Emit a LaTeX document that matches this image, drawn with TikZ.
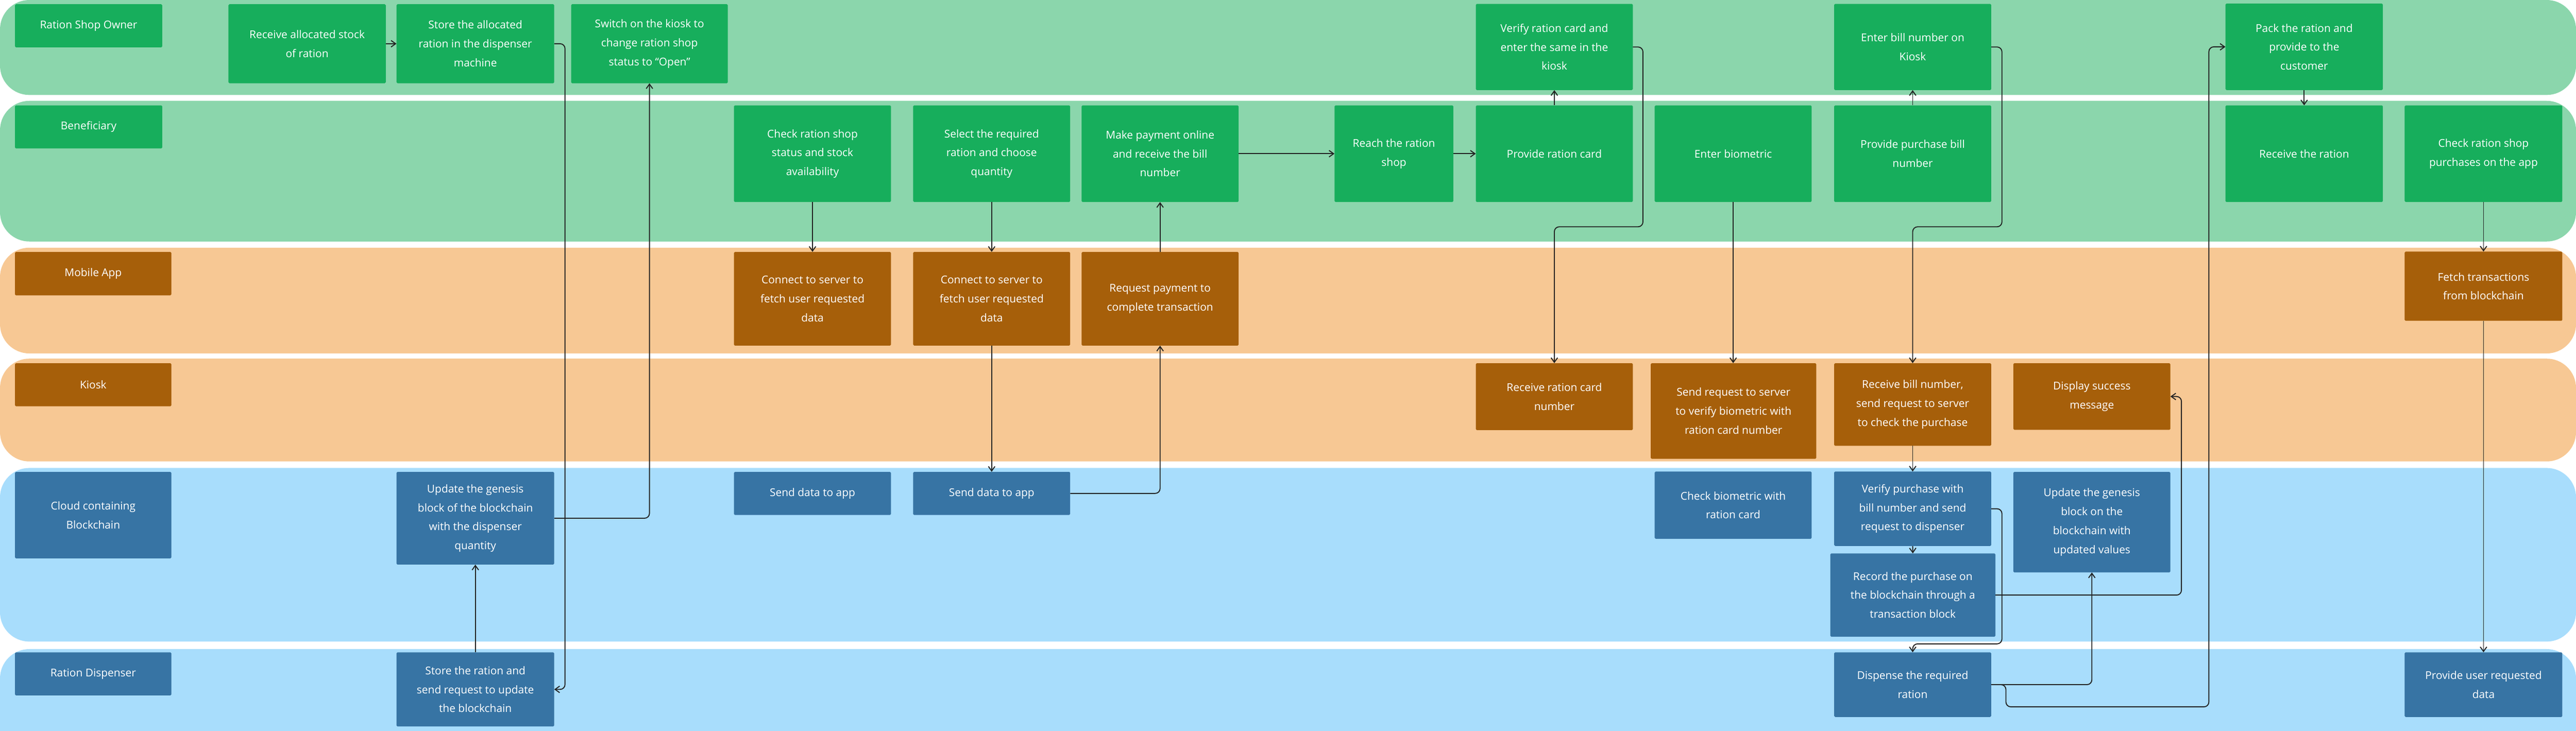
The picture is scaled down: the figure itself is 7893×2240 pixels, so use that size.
\documentclass[tikz,border=0pt]{standalone}
\usepackage{fontspec}
\setmainfont{Open Sans}
\usetikzlibrary{arrows.meta}
\definecolor{laneG}{HTML}{8BD6AC}
\definecolor{boxG}{HTML}{17AE5C}
\definecolor{laneO}{HTML}{F7C894}
\definecolor{boxO}{HTML}{A65F0A}
\definecolor{laneB}{HTML}{A8DDFC}
\definecolor{boxB}{HTML}{3774A4}
\definecolor{ln}{HTML}{222222}
\begin{document}
\begin{tikzpicture}[x=1pt,y=-1pt,
  box/.style={draw=none,inner sep=0pt,align=center,text=white,font=\fontsize{33}{58}\selectfont,rounded corners=3pt},
  g/.style={box,fill=boxG},o/.style={box,fill=boxO},b/.style={box,fill=boxB},
  pill/.style={box,rounded corners=60pt,minimum width=451pt,minimum height=132pt},
  lane/.style={rounded corners=90pt},
  conn/.style={draw=ln,line width=3pt,rounded corners=15pt,-{Straight Barb[length=14pt,width=20pt,line width=3pt]}}]
\useasboundingbox (0,0) rectangle (7893,2240);
% lanes
\fill[laneG,lane] (0,0) rectangle (7893,291);
\fill[laneG,lane] (0,309) rectangle (7893,740);
\fill[laneO,lane] (0,759) rectangle (7893,1083);
\fill[laneO,lane] (0,1099) rectangle (7893,1414);
\fill[laneB,lane] (0,1434) rectangle (7893,1966);
\fill[laneB,lane] (0,1989) rectangle (7893,2330);
% pills
\node[pill,g] (p1) at (271.5,79) {Ration Shop Owner};
\node[pill,g] (p2) at (271.5,389) {Beneficiary};
\node[pill,o,minimum width=479pt,minimum height=133pt] (p3) at (285.5,838.5) {Mobile App};
\node[pill,o,minimum width=479pt] (p4) at (285.5,1179) {Kiosk};
\node[pill,b,minimum width=479pt,minimum height=265pt] (p5) at (285.5,1578.5) {Cloud containing\\Blockchain};
\node[pill,b,minimum width=479pt] (p6) at (285.5,2065) {Ration Dispenser};
% owner lane
\node[g,minimum width=482pt,minimum height=242pt] (rcv) at (941,134) {Receive allocated stock\\of ration};
\node[g,minimum width=483pt,minimum height=242pt] (sto) at (1456.5,134) {Store the allocated\\ration in the dispenser\\machine};
\node[g,minimum width=480pt,minimum height=242pt] (swi) at (1990,134) {Switch on the kiosk to\\change ration shop\\status to “Open”};
\node[g,minimum width=481pt,minimum height=264pt] (ver) at (4762.5,144) {Verify ration card and\\enter the same in the\\kiosk};
\node[g,minimum width=481pt,minimum height=264pt] (ent) at (5860.5,144) {Enter bill number on\\Kiosk};
\node[g,minimum width=482pt,minimum height=265pt] (pack) at (7060,143.5) {Pack the ration and\\provide to the\\customer};
% beneficiary lane
\node[g,minimum width=481pt,minimum height=296pt] (chk) at (2489.5,471) {Check ration shop\\status and stock\\availability};
\node[g,minimum width=481pt,minimum height=296pt] (sel) at (3038.5,471) {Select the required\\ration and choose\\quantity};
\node[g,minimum width=481pt,minimum height=296pt] (pay) at (3554.5,471) {Make payment online\\and receive the bill\\number};
\node[g,minimum width=364pt,minimum height=296pt] (reach) at (4271,471) {Reach the ration\\shop};
\node[g,minimum width=481pt,minimum height=296pt] (prc) at (4762.5,471) {Provide ration card};
\node[g,minimum width=481pt,minimum height=296pt] (bio) at (5310.5,471) {Enter biometric};
\node[g,minimum width=481pt,minimum height=296pt] (ppb) at (5860.5,471) {Provide purchase bill\\number};
\node[g,minimum width=482pt,minimum height=296pt] (rcvr) at (7060,471) {Receive the ration};
\node[g,minimum width=483pt,minimum height=296pt] (cpa) at (7609.5,471) {Check ration shop\\purchases on the app};
% mobile app lane
\node[o,minimum width=481pt,minimum height=287pt] (con1) at (2489.5,915.5) {Connect to server to\\fetch user requested\\data};
\node[o,minimum width=481pt,minimum height=287pt] (con2) at (3038.5,915.5) {Connect to server to\\fetch user requested\\data};
\node[o,minimum width=481pt,minimum height=287pt] (req) at (3554.5,915.5) {Request payment to\\complete transaction};
\node[o,minimum width=483pt,minimum height=212pt] (fetch) at (7609.5,877) {Fetch transactions\\from blockchain};
% kiosk lane
\node[o,minimum width=481pt,minimum height=205pt] (rcn) at (4762.5,1215.5) {Receive ration card\\number};
\node[o,minimum width=507pt,minimum height=293pt] (sbio) at (5311.5,1259.5) {Send request to server\\to verify biometric with\\ration card number};
\node[o,minimum width=481pt,minimum height=253pt] (rbn) at (5860.5,1239.5) {Receive bill number,\\send request to server\\to check the purchase};
\node[o,minimum width=481pt,minimum height=204pt] (disp) at (6409.5,1215) {Display success\\message};
% cloud lane
\node[b,minimum width=483pt,minimum height=284pt] (gen1) at (1456.5,1588) {Update the genesis\\block of the blockchain\\with the dispenser\\quantity};
\node[b,minimum width=481pt,minimum height=132pt] (sd1) at (2489.5,1512) {Send data to app};
\node[b,minimum width=481pt,minimum height=132pt] (sd2) at (3038.5,1512) {Send data to app};
\node[b,minimum width=481pt,minimum height=206pt] (cbio) at (5310.5,1548) {Check biometric with\\ration card};
\node[b,minimum width=481pt,minimum height=228pt] (vp) at (5860.5,1559) {Verify purchase with\\bill number and send\\request to dispenser};
\node[b,minimum width=506pt,minimum height=255pt] (rec) at (5861,1823.5) {Record the purchase on\\the blockchain through a\\transaction block};
\node[b,minimum width=481pt,minimum height=308pt] (gen2) at (6409.5,1600) {Update the genesis\\block on the\\blockchain with\\updated values};
% dispenser lane
\node[b,minimum width=483pt,minimum height=227pt] (str) at (1456.5,2112.5) {Store the ration and\\send request to update\\the blockchain};
\node[b,minimum width=481pt,minimum height=198pt] (dis) at (5860.5,2098) {Dispense the required\\ration};
\node[b,minimum width=483pt,minimum height=198pt] (pud) at (7609.5,2098) {Provide user requested\\data};
% helper coordinates
\coordinate (v1) at (5034,695);
\coordinate (e1) at (6134,695);
\coordinate (c1) at (6134,1973);
\coordinate (c2) at (6684,1215);
\coordinate (d2) at (6768,2166);
% connectors
\draw[conn] (rcv.east) -- (sto.west);
\draw[conn] (sto.east) -- ++(33,0) |- (str.east);
\draw[conn] (str.north) -- (gen1.south);
\draw[conn] (gen1.east) -| (swi.south);
\draw[conn] (chk.south) -- (con1.north);
\draw[conn] (sel.south) -- (con2.north);
\draw[conn] (con2.south) -- (sd2.north);
\draw[conn] (sd2.east) -| (req.south);
\draw[conn] (req.north) -- (pay.south);
\draw[conn] (pay.east) -- (reach.west);
\draw[conn] (reach.east) -- (prc.west);
\draw[conn] (prc.north) -- (ver.south);
\draw[conn] (ver.east) -| (v1) -| (rcn.north);
\draw[conn,line width=2pt] (bio.south) -- (bio.south |- sbio.north);
\draw[conn] (ppb.north) -- (ent.south);
\draw[conn] (ent.east) -| (e1) -| (rbn.north);
\draw[conn] (rbn.south) -- (vp.north);
\draw[conn] (vp.south) -- (rec.north);
\draw[conn] (vp.east) -| (c1) -| (dis.north);
\draw[conn] (rec.east) -| (c2) -- (disp.east);
\draw[conn] (dis.east) -| (gen2.south);
\draw[conn] (dis.east) -- ++(45,0) |- (d2) |- (pack.west);
\draw[conn] (pack.south) -- (rcvr.north);
\draw[conn] (cpa.south) -- (fetch.north);
\draw[conn] (fetch.south) -- (pud.north);
\end{tikzpicture}
\end{document}
